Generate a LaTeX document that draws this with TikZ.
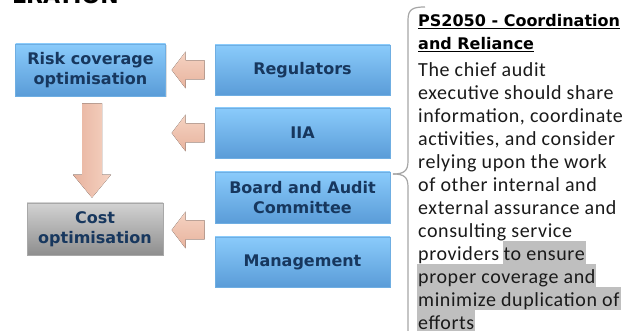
\documentclass[tikz,border=0pt]{standalone}
\usepackage{fontspec}
\setmainfont{Carlito}[LetterSpace=3]
\newfontfamily\boxfont{DejaVu Sans}
\usetikzlibrary{calc,shadows}

\definecolor{navy}{HTML}{17375E}
\definecolor{blueTop}{HTML}{8ACBFB}
\definecolor{blueBot}{HTML}{5A9CD8}
\definecolor{blueEdge}{HTML}{6FAEE2}
\definecolor{greyTop}{HTML}{D2D2D2}
\definecolor{greyBot}{HTML}{8E8E8E}
\definecolor{greyEdge}{HTML}{A8A8A8}
\definecolor{peachLight}{HTML}{F5D3C3}
\definecolor{peachDark}{HTML}{E8B39E}
\definecolor{braceGrey}{HTML}{A6A6A6}
\definecolor{hlgrey}{HTML}{BFBFBF}
\definecolor{bodytext}{HTML}{1A1A1A}

\begin{document}
\begin{tikzpicture}[x=1pt,y=-1pt,
  boxbase/.style={line width=0.6pt, inner sep=0pt, align=center,
    font=\boxfont\bfseries\fontsize{16}{20}\selectfont, text=navy,
    drop shadow={opacity=0.25, shadow xshift=1pt, shadow yshift=-1.5pt}},
  bluebox/.style={boxbase, draw=blueEdge, top color=blueTop, bottom color=blueBot},
  greybox/.style={boxbase, draw=greyEdge, top color=greyTop, bottom color=greyBot},
  hpeach/.style={top color=peachLight, bottom color=peachDark, draw=none},
  vpeach/.style={left color=peachDark, right color=peachLight, draw=none},
  body/.style={inner sep=0pt, anchor=base west, text=bodytext,
    font=\fontsize{20}{23}\selectfont},
  hl/.style={body, fill=hlgrey, inner xsep=1pt, inner ysep=0pt,
    text height=20pt, text depth=3pt},
  head/.style={inner sep=0pt, anchor=base west, text=black,
    font=\boxfont\bfseries\fontsize{16}{20}\selectfont},
  bracepen/.style={draw=braceGrey, line width=1.2pt},
]
\useasboundingbox (0,0) rectangle (622,331);
\clip (0,0) rectangle (622,331);
\fill[white] (0,0) rectangle (622,331);

% heading running off the top edge
\node[inner sep=0pt, anchor=base west, font=\boxfont\bfseries\fontsize{22}{22}\selectfont]
  (title) at (12,4) {LRATION};

% outcome boxes
\node[bluebox, minimum width=150pt, minimum height=52pt] (risk) at (90.5,70)
  {Risk coverage\\optimisation};
\node[greybox, minimum width=136pt, minimum height=52pt] (cost) at (95,229)
  {Cost\\optimisation};

% assurance providers
\node[bluebox, minimum width=175pt, minimum height=50pt] (reg)   at (302.5,70)    {Regulators};
\node[bluebox, minimum width=175pt, minimum height=50pt] (iia)   at (302.5,133)   {IIA};
\node[bluebox, minimum width=175pt, minimum height=51pt] (board) at (302.5,197.5) {Board and Audit\\Committee};
\node[bluebox, minimum width=175pt, minimum height=50pt] (mgmt)  at (302.5,262)   {Management};

% block arrows pointing left, tail next to the providers
\foreach \src/\name in {reg/a1, iia/a2} {
  \coordinate (\name) at ($(\src.west)+(-10,0)$);
  \fill[hpeach] (\name) ++(0,-9.5) -- ++(-19,0) -- ++(0,-9) -- ++(-14,18.5)
     -- ++(14,18.5) -- ++(0,-9) -- ++(19,0) -- cycle;
}
\coordinate (a3) at ($(board.south west)!0.5!(mgmt.north west)+(-10,0)$);
\fill[hpeach] (a3) ++(0,-9.5) -- ++(-19,0) -- ++(0,-9) -- ++(-14,18.5)
   -- ++(14,18.5) -- ++(0,-9) -- ++(19,0) -- cycle;

% downward block arrow from risk to cost
\coordinate (dtop) at ($(risk.south)+(1.5,7)$);
\coordinate (dtip) at ($(cost.north)+(-3,-5)$);
\fill[vpeach] ($(dtop)+(-10,0)$) -- ($(dtop)+(10,0)$) -- ($(dtip)+(10,-23)$)
  -- ($(dtip)+(19,-23)$) -- (dtip) -- ($(dtip)+(-19,-23)$) -- ($(dtip)+(-10,-23)$) -- cycle;

% brace gathering the providers
\coordinate (btop) at (425,7);
\coordinate (btip) at (393,174);
\coordinate (bend) at (408,340);
\draw[bracepen] (btop) .. controls (413,7) and (408,9) .. (408,20) -- (408,161)
  .. controls (408,171) and (404,174) .. (btip);
\draw[bracepen] (btip) .. controls (404,174) and (408,177) .. (408,187) -- (bend);

% standard text
\node[head] (h1) at (418,27) {\underline{PS2050 - Coordination}};
\node[head] (h2) at (418,50) {\underline{and Reliance}};
\node[body] (l1) at (418,77)  {The chief audit};
\node[body] (l2) at (418,100) {executive should share};
\node[body] (l3) at (418,123) {information, coordinate};
\node[body] (l4) at (418,146) {activities, and consider};
\node[body] (l5) at (418,169) {relying upon the work};
\node[body] (l6) at (418,192) {of other internal and};
\node[body] (l7) at (418,215) {external assurance and};
\node[body] (l8) at (418,238) {consulting service};
\node[body] (l9) at (418,261) {providers};
\node[hl] (l9b) at ($(l9.base east)+(3,0)$) {to ensure};
\node[hl] (l10) at (417,284) {proper coverage and};
\node[hl] (l11) at (417,307) {minimize duplication of};
\node[hl] (l12) at (417,330) {efforts};
\end{tikzpicture}
\end{document}
